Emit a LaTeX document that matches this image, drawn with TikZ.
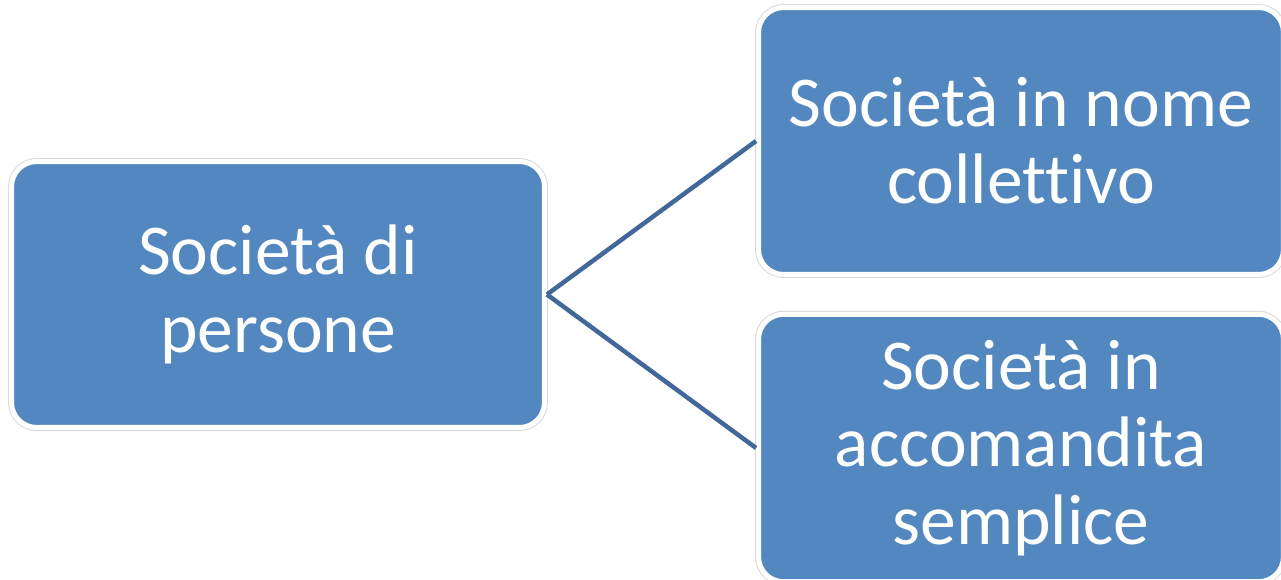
\documentclass[tikz,border=0pt]{standalone}
\usepackage{fontspec}
\setmainfont[Ligatures=NoCommon]{Carlito}
\usepackage{tikz}
\usetikzlibrary{arrows.meta,calc}
\definecolor{boxblue}{RGB}{83,135,192}
\definecolor{lineblue}{RGB}{66,104,154}
\tikzset{
main box/.style={rectangle,rounded corners=0.5cm,fill=boxblue,draw=white,line width=0.1cm,
  preaction={draw=gray!30,line width=0.14cm},text=white,align=center,
  font=\fontsize{40.7}{44}\selectfont,inner sep=0pt},
ramo/.style={draw=lineblue,line width=0.09cm}}

\begin{document}
\begin{tikzpicture}[x=0.02cm,y=-0.02cm]
\useasboundingbox (0,0) rectangle (1281,580);

\node[main box,minimum width=10.66cm,minimum height=5.32cm] (sp) at (278,294.5) {Società di\\persone};
\node[main box,minimum width=10.5cm,minimum height=5.34cm] (snc) at (1021,141) {Società in nome\\collettivo};
\node[main box,minimum width=10.5cm,minimum height=5.35cm] (sas) at (1021,448) {Società in\\accomandita\\semplice};

\path[ramo] (sp.east) -- (snc.west);
\path[ramo] (sp.east) -- (sas.west);

\end{tikzpicture}
\end{document}
